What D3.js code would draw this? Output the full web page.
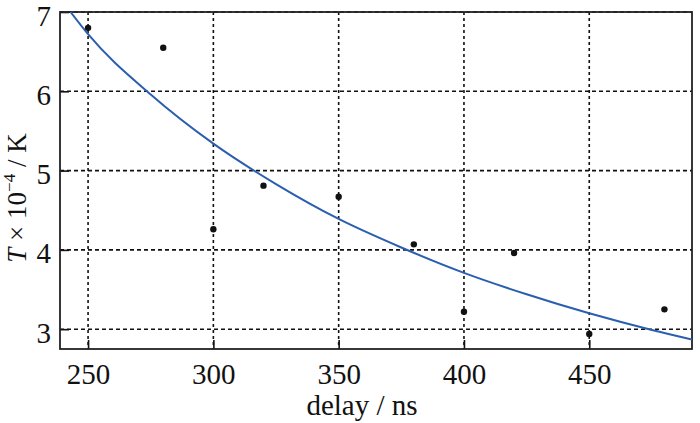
<!DOCTYPE html>
<html>
<head>
<meta charset="utf-8">
<script src="https://cdn.jsdelivr.net/npm/d3@7"></script>
<style>
  body { margin: 0; background: #fff; }
</style>
</head>
<body>
<div id="chart"></div>
<script>
"use strict";

// measured points
const delays = [250, 280, 300, 320, 350, 380, 400, 420, 450, 480];
const temps = [6.80, 6.55, 4.26, 4.81, 4.67, 4.07, 3.22, 3.96, 2.94, 3.25];

// fitted curve
const fitDelays = [243, 250, 275, 300, 325, 350, 375, 400, 425, 450, 475, 491];
const fitTemps = [7.00, 6.72, 5.96, 5.34, 4.83, 4.39, 4.03, 3.71, 3.44, 3.20, 2.99, 2.87];

const xTicks = [250, 300, 350, 400, 450];
const yTicks = [3, 4, 5, 6, 7];

const serif = '"Liberation Serif", "Times New Roman", Times, "DejaVu Serif", serif';
const width = 700, height = 423;
const margin = {top: 12, right: 8, bottom: 74, left: 60};

const svg = d3.select("#chart").append("svg")
  .attr("width", width)
  .attr("height", height);

const x = d3.scaleLinear().domain([238.8, 491]).range([margin.left, width - margin.right]);
const y = d3.scaleLinear().domain([2.75, 7]).range([height - margin.bottom, margin.top]);

const g = svg.append("g");

// grid lines (dashed)
g.selectAll(".vgrid").data(xTicks).enter().append("line")
  .attr("x1", d => x(d)).attr("x2", d => x(d))
  .attr("y1", y.range()[1]).attr("y2", y.range()[0])
  .attr("stroke", "#111").attr("stroke-width", 1.6)
  .attr("stroke-dasharray", "3,3");
g.selectAll(".hgrid").data(yTicks).enter().append("line")
  .attr("x1", x.range()[0]).attr("x2", x.range()[1])
  .attr("y1", d => y(d)).attr("y2", d => y(d))
  .attr("stroke", "#111").attr("stroke-width", 1.6)
  .attr("stroke-dasharray", "4,3");

// axes with inward ticks
const xAxis = g.append("g")
  .attr("transform", "translate(0," + y.range()[0] + ")")
  .call(d3.axisBottom(x).tickValues(xTicks).tickFormat(d3.format("d"))
    .tickSizeInner(-9).tickSizeOuter(0).tickPadding(14));
const yAxis = g.append("g")
  .attr("transform", "translate(" + x.range()[0] + ",0)")
  .call(d3.axisLeft(y).tickValues(yTicks).tickFormat(d3.format("d"))
    .tickSizeInner(-9).tickSizeOuter(0).tickPadding(9));
[xAxis, yAxis].forEach(a => {
  a.select(".domain").remove();
  a.selectAll("line").attr("stroke", "#111").attr("stroke-width", 1.6);
  a.selectAll("text")
   .style("font-family", serif)
   .style("font-size", "29px")
   .attr("fill", "#111");
});
yAxis.selectAll("text").attr("dy", "0.45em");

// frame
g.append("rect")
  .attr("x", x.range()[0])
  .attr("y", y.range()[1])
  .attr("width", x.range()[1] - x.range()[0])
  .attr("height", y.range()[0] - y.range()[1])
  .attr("fill", "none")
  .attr("stroke", "#222")
  .attr("stroke-width", 1.8);

// clip for the curve
svg.append("clipPath").attr("id", "plot")
  .append("rect")
  .attr("x", x.range()[0]).attr("y", y.range()[1])
  .attr("width", x.range()[1] - x.range()[0])
  .attr("height", y.range()[0] - y.range()[1]);

const line = d3.line()
  .x((d, i) => x(fitDelays[i]))
  .y(d => y(d))
  .curve(d3.curveMonotoneX);

g.append("path")
  .datum(fitTemps)
  .attr("d", line)
  .attr("clip-path", "url(#plot)")
  .attr("fill", "none")
  .attr("stroke", "#2a5fb0")
  .attr("stroke-width", 2);

// points
g.selectAll(".pt").data(temps).enter().append("circle")
  .attr("cx", (d, i) => x(delays[i]))
  .attr("cy", d => y(d))
  .attr("r", 3.2)
  .attr("fill", "#111");

// axis titles
svg.append("text")
  .attr("x", 362)
  .attr("y", 415)
  .attr("text-anchor", "middle")
  .style("font-family", serif)
  .style("font-size", "29px")
  .attr("fill", "#111")
  .text("delay / ns");

const yt = svg.append("text")
  .attr("transform", "translate(26,198) rotate(-90)")
  .attr("text-anchor", "middle")
  .style("font-family", serif)
  .style("font-size", "27px")
  .attr("fill", "#111");
yt.append("tspan").style("font-style", "italic").text("T");
yt.append("tspan").text(" \u00d7 10");
yt.append("tspan").attr("dy", -11).style("font-size", "17px").text("\u22124");
yt.append("tspan").attr("dy", 11).text(" / K");
</script>
</body>
</html>
